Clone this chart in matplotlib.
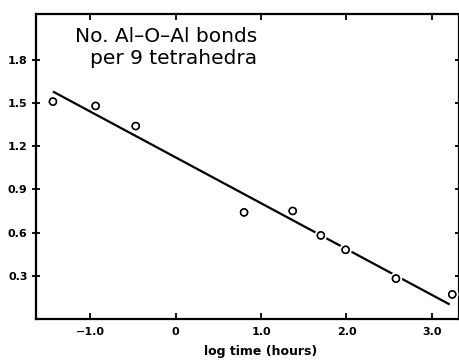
import matplotlib.pyplot as plt
import matplotlib.patheffects as pe

# data
log_time = [-1.44, -0.94, -0.47, 0.80, 1.37, 1.70, 1.99, 2.58, 3.24]
bonds = [1.51, 1.48, 1.34, 0.74, 0.75, 0.58, 0.48, 0.28, 0.17]

# fitted line end points
fit_x = [-1.44, 3.21]
fit_y = [1.58, 0.10]

xticks = [-1.0, 0, 1.0, 2.0, 3.0]
xticklabels = ['\u22121.0', '0', '1.0', '2.0', '3.0']
yticks = [0.3, 0.6, 0.9, 1.2, 1.5, 1.8]

fig = plt.figure(figsize=(4.6, 3.64), dpi=100)
ax = fig.add_axes([0.078, 0.124, 0.92, 0.838])

ax.plot(fit_x, fit_y, color='black', lw=1.6, solid_capstyle='butt', zorder=2)
ax.plot(log_time, bonds, 'o', ms=5, mfc='white', mec='black', mew=1.1, zorder=3,
        path_effects=[pe.withStroke(linewidth=4, foreground='white'), pe.Normal()])

ax.set_xlim(-1.64, 3.32)
ax.set_ylim(0, 2.12)
ax.set_xticks(xticks)
ax.set_xticklabels(xticklabels)
ax.set_yticks(yticks)
ax.set_yticklabels(['%.1f' % v for v in yticks])

for s in ax.spines.values():
    s.set_linewidth(1.6)

ax.tick_params(axis='both', labelsize=8, width=1.3, length=4, direction='in',
               top=True, right=True)
ax.tick_params(axis='y', direction='inout', length=6, pad=3)
ax.tick_params(axis='x', pad=6)
for lbl in ax.get_xticklabels() + ax.get_yticklabels():
    lbl.set_fontweight('bold')

ax.text(0.522, 0.89, 'No. Al\u2013O\u2013Al bonds\nper 9 tetrahedra', transform=ax.transAxes,
        ha='right', va='center', multialignment='right', fontsize=14.5, linespacing=1.25)

ax.set_xlabel('log time (hours)', fontsize=9, fontweight='bold')
ax.xaxis.set_label_coords(0.53, -0.085)

fig.savefig('out.png', dpi=100)
